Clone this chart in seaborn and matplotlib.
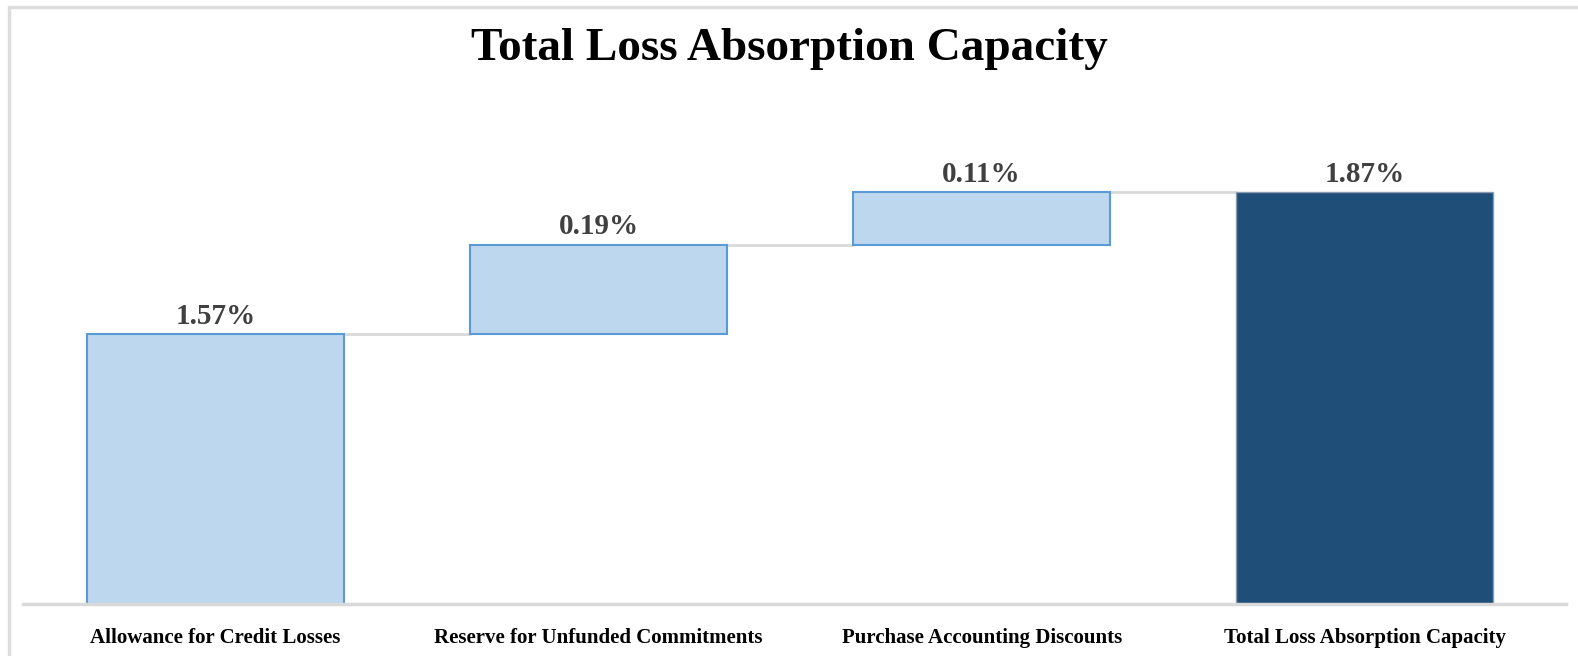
import numpy as np
import pandas as pd
import matplotlib
matplotlib.use("Agg")
import matplotlib.pyplot as plt
import seaborn as sns
from matplotlib.patches import Rectangle

# chart data
categories = [
    "Allowance for Credit Losses",
    "Reserve for Unfunded Commitments",
    "Purchase Accounting Discounts",
    "Total Loss Absorption Capacity",
]
steps = [1.57, 0.19, 0.11]
total = 1.87
labels = ["1.57%", "0.19%", "0.11%", "1.87%"]

light_fill = "#BDD7EE"
light_edge = "#5B9BD5"
dark_fill = "#1F4E79"
grey = "#D9D9D9"

# waterfall: heights and floating bottoms
heights = steps + [total]
bottoms = list(np.concatenate([[0], np.cumsum(steps)[:-1]])) + [0]
tops = [b + h for b, h in zip(bottoms, heights)]

df = pd.DataFrame({"category": categories, "value": heights})

sns.set_style("white")
plt.rcParams["font.family"] = ["Liberation Serif", "DejaVu Serif"]

fig = plt.figure(figsize=(15.78, 6.56), dpi=100)
ax = fig.add_axes([23 / 1578, 52 / 656, 1543 / 1578, 504 / 656])

sns.barplot(data=df, x="category", y="value", order=categories,
            bottom=bottoms, width=0.67, color=light_fill, saturation=1,
            edgecolor=light_edge, linewidth=1.5, ax=ax, zorder=2)

# total bar in dark navy
bars = ax.patches
bars[-1].set_facecolor(dark_fill)
bars[-1].set_edgecolor("#8a9bb0")
bars[-1].set_linewidth(1.0)

ax.set_ylim(1.0, 1.0 + 504 / 473)
ax.set_xlim(-0.502, 3.525)

# connector lines between bars
for i in range(len(categories) - 1):
    x0 = bars[i].get_x() + bars[i].get_width()
    x1 = bars[i + 1].get_x()
    ax.plot([x0, x1], [tops[i], tops[i]], color=grey, lw=2, zorder=1)

# value labels
for i, lab in enumerate(labels):
    ax.text(i, tops[i] + 0.01, lab, ha="center", va="bottom",
            fontsize=21, fontweight="bold", color="#404040")

sns.despine(ax=ax, left=True, top=True, right=True)
ax.spines["bottom"].set_color(grey)
ax.spines["bottom"].set_linewidth(2.5)
ax.set_yticks([])
ax.set_xlabel("")
ax.set_ylabel("")
ax.tick_params(axis="x", length=0, pad=17)
for t in ax.get_xticklabels():
    t.set_fontsize(15)
    t.set_fontweight("bold")
    t.set_color("#000000")

fig.text(0.5, 1 - 49 / 656, "Total Loss Absorption Capacity", ha="center",
         va="center", fontsize=34, fontweight="bold", color="#000000")

# light frame around the chart area
fig.patches.append(Rectangle((9 / 1578, -0.05), 1.1, 1 - 7 / 656 + 0.05,
                             transform=fig.transFigure, fill=False,
                             edgecolor="#DDDDDD", lw=2.5))

fig.savefig("out.png", dpi=100)
